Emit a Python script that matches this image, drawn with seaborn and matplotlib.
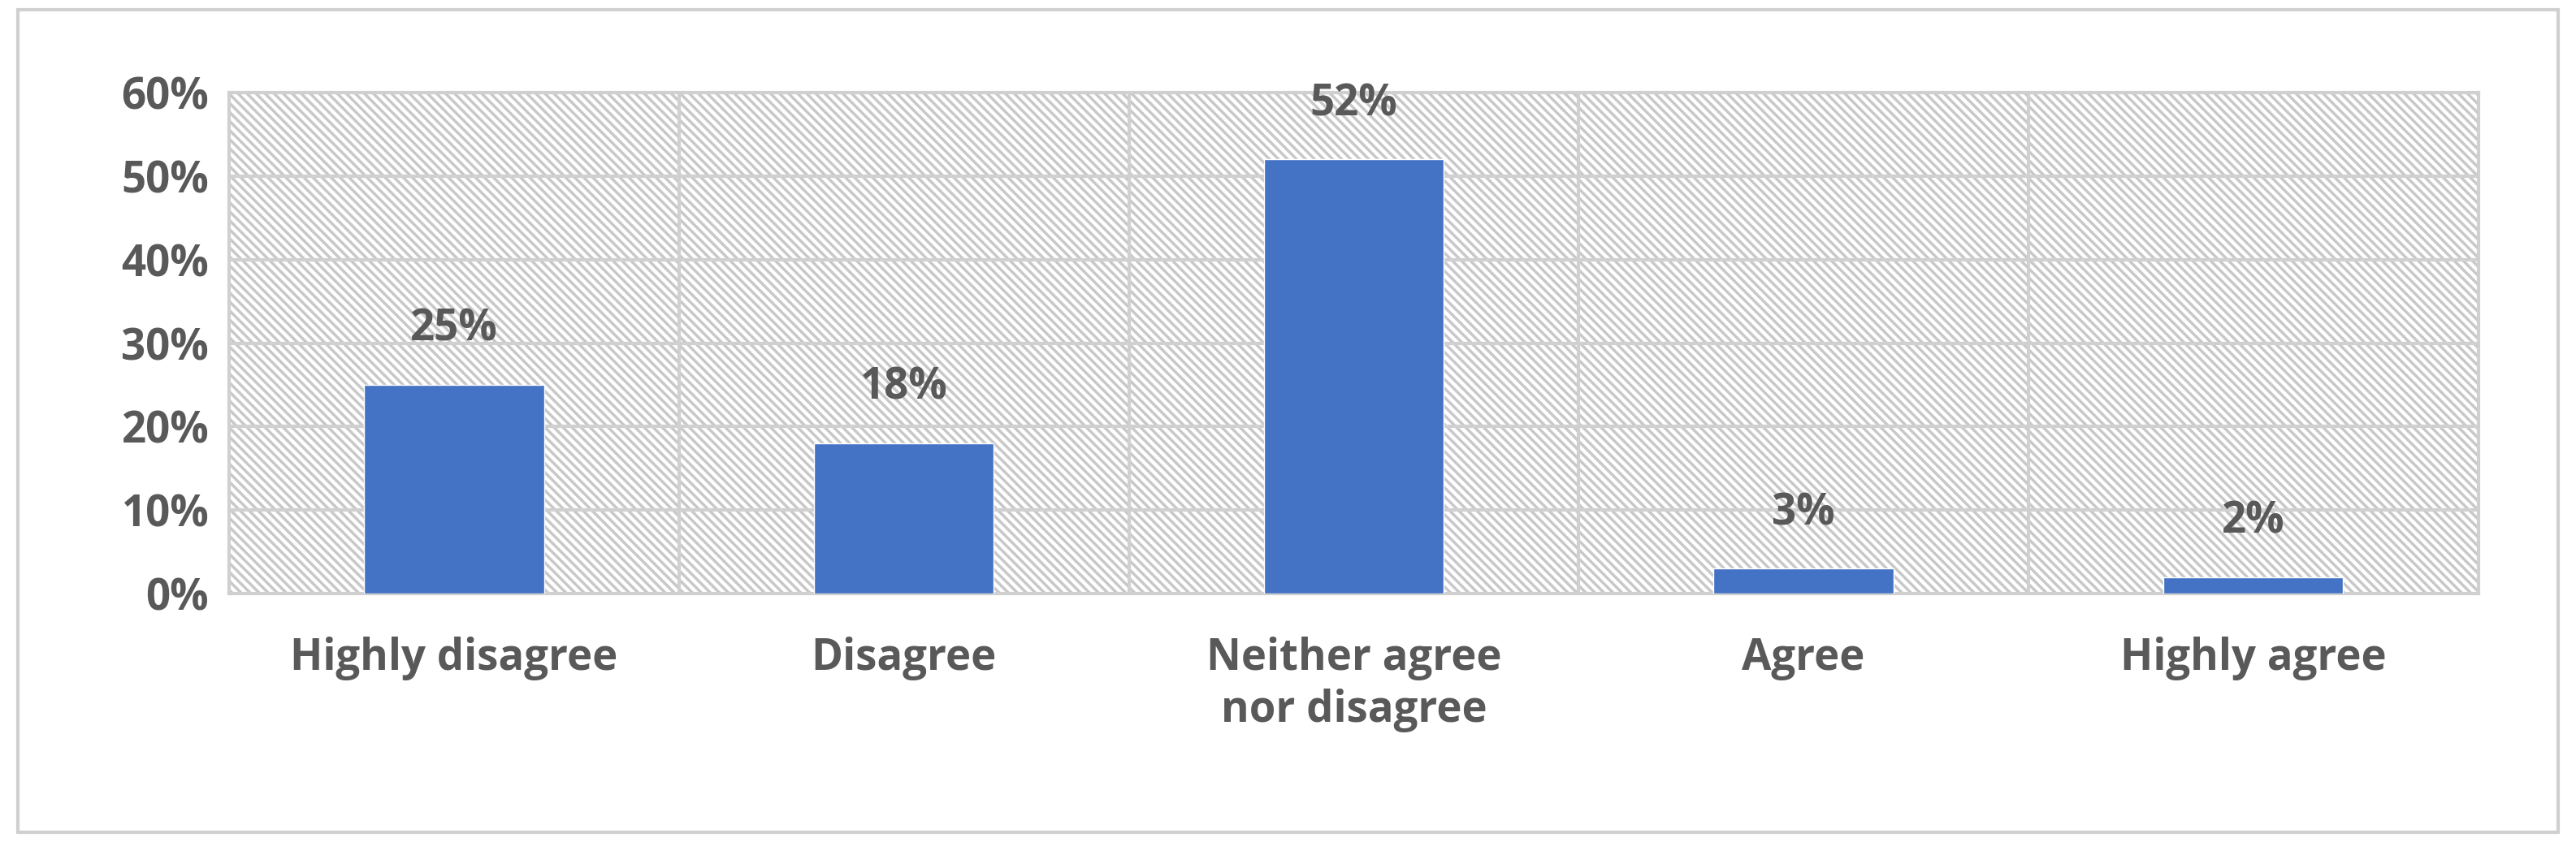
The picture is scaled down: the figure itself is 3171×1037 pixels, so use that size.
import matplotlib
matplotlib.use("Agg")
import matplotlib.pyplot as plt
import seaborn as sns
import pandas as pd
from matplotlib.patches import Rectangle
from matplotlib.ticker import PercentFormatter, MultipleLocator

categories = ["Highly disagree", "Disagree", "Neither agree\nnor disagree", "Agree", "Highly agree"]
values = [25, 18, 52, 3, 2]

sns.set_style("white")
plt.rcParams["font.family"] = ["Open Sans", "DejaVu Sans"]
plt.rcParams["hatch.color"] = "#c8c8c8"
plt.rcParams["hatch.linewidth"] = 2.5

df = pd.DataFrame({"cat": categories, "val": values})
fig = plt.figure(figsize=(31.71, 10.37), dpi=100)
ax = fig.add_axes([0.089, 0.295, 0.873, 0.595])

# hatched background
ax.add_patch(Rectangle((0, 0), 1, 1, transform=ax.transAxes, facecolor="white",
                       hatch="\\\\\\", edgecolor="#c8c8c8", lw=0, zorder=0))

sns.barplot(data=df, x="cat", y="val", color="#4472C4", saturation=1, width=0.4, ax=ax, zorder=3)

ax.set_ylim(0, 60)
ax.set_xlim(-0.5, 4.5)
ax.yaxis.set_major_locator(MultipleLocator(10))
ax.yaxis.set_major_formatter(PercentFormatter(decimals=0))
for y in range(10, 61, 10):
    ax.axhline(y, color="#d0d0d0", lw=3, zorder=1)
for x in [0.5, 1.5, 2.5, 3.5]:
    ax.axvline(x, color="#d0d0d0", lw=3, zorder=1)
for s in ax.spines.values():
    s.set_color("#d0d0d0")
    s.set_linewidth(3)

for i, v in enumerate(values):
    ax.text(i, v + 4, f"{v}%", ha="center", va="bottom", fontsize=38,
            fontweight="bold", color="#595959")

ax.set_xlabel("")
ax.set_ylabel("")
ax.tick_params(axis="both", length=0, labelsize=38, labelcolor="#595959")
ax.tick_params(axis="x", pad=38)
ax.tick_params(axis="y", pad=18)
for lab in ax.get_xticklabels() + ax.get_yticklabels():
    lab.set_fontweight("bold")
for lab in ax.get_xticklabels():
    lab.set_linespacing(1.25)

# outer frame
fig.add_artist(Rectangle((0.007, 0.012), 0.986, 0.976, transform=fig.transFigure,
                         fill=False, edgecolor="#d0d0d0", lw=3))

fig.savefig("out.png", dpi=100)
